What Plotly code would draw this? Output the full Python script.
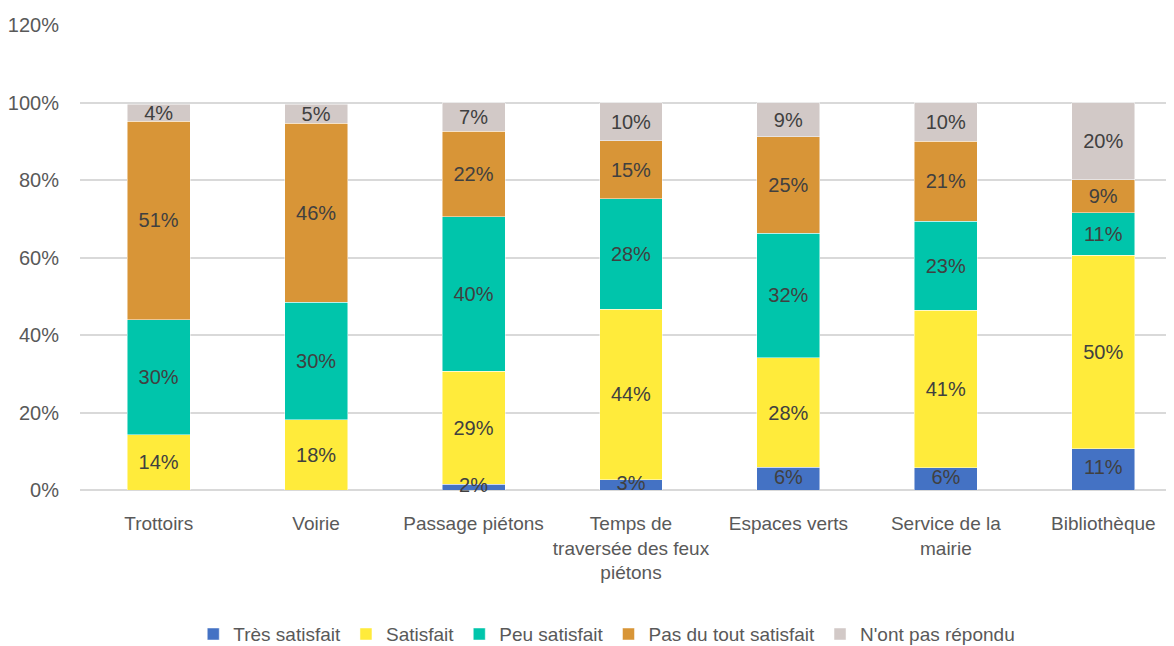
import plotly.graph_objects as go

categories = ["Trottoirs", "Voirie", "Passage piétons",
              "Temps de<br>traversée des feux<br>piétons", "Espaces verts",
              "Service de la<br>mairie", "Bibliothèque"]

tres_satisfait = [0.0, 0.0, 1.5, 2.6, 5.9, 5.7, 10.6]
satisfait = [14.2, 18.1, 29.2, 44.1, 28.2, 40.7, 50.0]
peu_satisfait = [29.7, 30.4, 39.8, 28.4, 32.2, 23.0, 10.9]
pas_du_tout = [51.3, 46.2, 22.1, 15.0, 24.8, 20.6, 8.6]
non_repondu = [4.4, 4.8, 7.4, 9.9, 8.9, 9.9, 19.9]

labels_tres = ["", "", "2%", "3%", "6%", "6%", "11%"]

series = [
    ("Très satisfait", tres_satisfait, "#4472C4", False),
    ("Satisfait", satisfait, "#FFEB3B", True),
    ("Peu satisfait", peu_satisfait, "#00C5AB", True),
    ("Pas du tout satisfait", pas_du_tout, "#D89537", True),
    ("N'ont pas répondu", non_repondu, "#D2C9C7", True),
]

FONT = "Liberation Sans Narrow, Arial Narrow, Liberation Sans, sans-serif"

fig = go.Figure()
for name, vals, color, show_text in series:
    text = [f"{round(v):.0f}%" for v in vals] if show_text else None
    fig.add_trace(go.Bar(
        name=name, x=categories, y=vals,
        marker=dict(color=color, line=dict(color="rgba(255,255,255,0.6)", width=0.8)),
        text=text, textposition="inside", insidetextanchor="middle",
        constraintext="none",
        textfont=dict(family=FONT, size=20, color="#404040"),
        hoverinfo="name+y",
    ))

# labels of the first series drawn on top so that small segments overflow like the original
fig.add_trace(go.Scatter(
    x=categories, y=[v / 2 for v in tres_satisfait], mode="text",
    text=labels_tres, textposition="middle center",
    textfont=dict(family=FONT, size=20, color="#404040"),
    showlegend=False, hoverinfo="skip", cliponaxis=False,
))

fig.update_layout(
    barmode="stack",
    bargap=0.6,
    width=1174, height=646,
    margin=dict(l=70, r=0, t=17, b=164),
    plot_bgcolor="white", paper_bgcolor="white",
    font=dict(family=FONT, size=19, color="#595959"),
    uniformtext=dict(mode="show", minsize=20),
    xaxis=dict(range=[-0.5, 6.5], showgrid=False, showline=False,
               tickfont=dict(family=FONT, size=19, color="#595959"),
               ticks="", ticklabelstandoff=20),
    yaxis=dict(range=[0, 120], tickvals=[0, 20, 40, 60, 80, 100, 120],
               ticktext=["0%", "20%", "40%", "60%", "80%", "100%", "120%"],
               showgrid=True, gridcolor="#D9D9D9", gridwidth=1.5,
               zeroline=True, zerolinecolor="#D9D9D9", zerolinewidth=1.5,
               showline=False, ticks="", ticklabelstandoff=20,
               tickfont=dict(family=FONT, size=20, color="#595959")),
    legend=dict(orientation="h", x=0.478, xanchor="center", y=-0.31, yanchor="middle",
                font=dict(family=FONT, size=19, color="#595959"),
                itemwidth=30, traceorder="normal"),
)

fig.write_html("out.html")
